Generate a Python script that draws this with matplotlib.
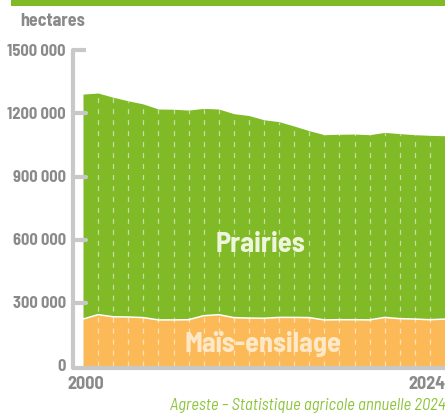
import matplotlib
matplotlib.use("Agg")
import matplotlib.pyplot as plt
from matplotlib.patches import Rectangle

plt.rcParams['font.family'] = ['Barlow Semi Condensed', 'DejaVu Sans']
plt.rcParams['lines.scale_dashes'] = False

# surfaces fourragères (ha)
years = list(range(2000, 2025))
mais = [223000, 244000, 234000, 233000, 230000, 219000, 219000, 220000, 239000,
        244000, 230000, 228000, 227000, 231000, 231000, 230000, 219000, 220000,
        220000, 219000, 231000, 225000, 223000, 220000, 223000]
prairies = [1069000, 1053000, 1043000, 1027000, 1015000, 1002000, 1001000, 996000,
            985000, 977000, 969000, 962000, 943000, 930000, 909000, 888000, 880000,
            881000, 882000, 880000, 879000, 879000, 876000, 876000, 871000]
yticks = [0, 300000, 600000, 900000, 1200000, 1500000]
ytick_labels = ['0', '300\u2009000', '600\u2009000', '900\u2009000', '1200\u2009000', '1500\u2009000']

green = '#80ba27'
orange = '#fbba57'
axis_grey = '#c8c8c8'
text_grey = '#8a8a8a'

fig = plt.figure(figsize=(4.45, 4.14), dpi=100)
ax = fig.add_axes([83 / 445, 47 / 414, 362 / 445, 315.7 / 414])
ax.set_xlim(2000, 2024)
ax.set_ylim(0, 1500000)
ax.axis('off')

total = [m + p for m, p in zip(mais, prairies)]
ax.fill_between(years, 0, mais, color=orange, lw=0)
ax.fill_between(years, mais, total, color=green, lw=0)
ax.plot(years, mais, color='white', lw=1.1)

# pointillés annuels
ax.vlines(years[1:-1], 0, total[1:-1], colors='white', alpha=0.55,
          lw=0.9, linestyles=(0, (3.6, 4.3)))

# axes dessinés à la main
px = 1 / 15.083  # un pixel en années
py = 1500000 / 315.7
x_axis = 2000 - 10 * px
y_base = -2 * py
ax.plot([x_axis + 13 * px, x_axis, x_axis, 2024.2],
        [1500000, 1500000, y_base, y_base],
        color=axis_grey, lw=3, solid_capstyle='butt', solid_joinstyle='round',
        clip_on=False, zorder=5)
for t in yticks[1:-1]:
    ax.plot([x_axis, x_axis + 13 * px], [t, t], color=axis_grey, lw=3,
            solid_capstyle='round', clip_on=False, zorder=5)
for t, lab in zip(yticks, ytick_labels):
    ax.text(2000 - 17 * px, t, lab, ha='right', va='center', fontsize=11.8,
            fontweight='bold', color=text_grey, clip_on=False)

ax.text(2000 + 3 * px, y_base - 16 * py, '2000', ha='center', va='center',
        fontsize=13, fontweight='bold', color=text_grey, clip_on=False)
ax.text(2024, y_base - 16 * py, '2024', ha='right', va='center',
        fontsize=13, fontweight='bold', color=text_grey, clip_on=False)

ax.text(2011.8, 582000, 'Prairies', ha='center', va='center', fontsize=20.6,
        fontweight='bold', color='#eef5dc')
ax.text(2011.95, 108000, 'Maïs-ensilage', ha='center', va='center', fontsize=20.4,
        fontweight='bold', color='#fde8c8')

fig.text(20 / 445, 1 - 22 / 414, 'hectares', ha='left', va='center',
         fontsize=13, fontweight='bold', color=text_grey)
fig.text(1.0, 1 - 406 / 414, 'Agreste \u2013 Statistique agricole annuelle 2024',
         ha='right', va='center', fontsize=12, style='italic', color='#8cc43c')

# bandeau vert en haut
fig.patches.append(Rectangle((11 / 445, 1 - 7 / 414), 434 / 445, 7 / 414,
                             transform=fig.transFigure, color=green, lw=0))

fig.savefig('out.png', dpi=100)
